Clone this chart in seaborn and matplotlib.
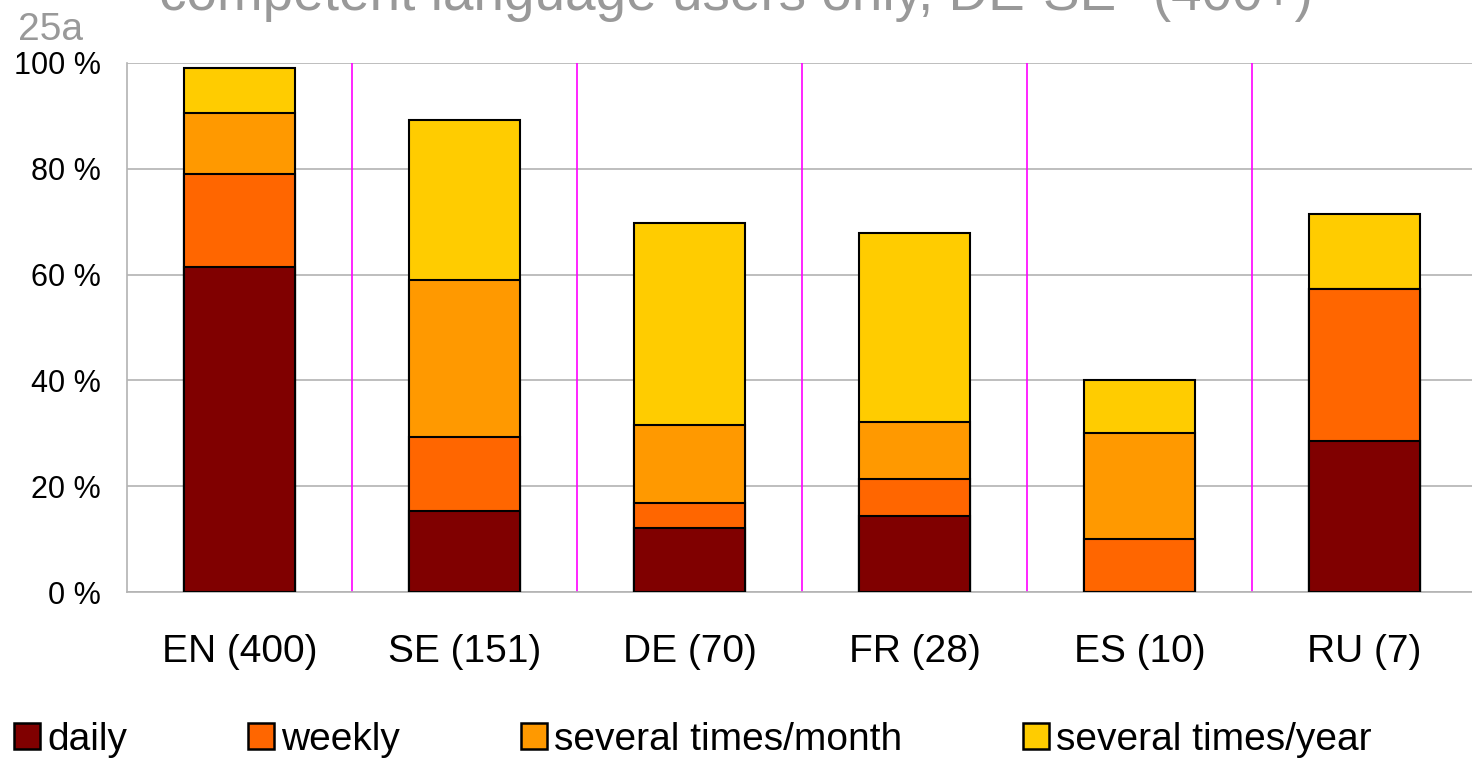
import matplotlib
matplotlib.use("Agg")
import matplotlib.pyplot as plt
from matplotlib.patches import Patch
import seaborn as sns
import pandas as pd

# Data (percent of users)
languages = ["EN (400)", "SE (151)", "DE (70)", "FR (28)", "ES (10)", "RU (7)"]
daily = [61.4, 15.3, 12.1, 14.3, 0.0, 28.6]
weekly = [17.6, 14.0, 4.7, 7.1, 10.0, 28.6]
per_month = [11.5, 29.7, 14.8, 10.7, 20.0, 0.0]
per_year = [8.6, 30.2, 38.2, 35.8, 10.0, 14.3]

series_names = ["daily", "weekly", "several times/month", "several times/year"]
colors = ["#800000", "#FF6600", "#FF9900", "#FFCC00"]

df = pd.DataFrame({
    "Language": languages,
    "daily": daily,
    "weekly": weekly,
    "several times/month": per_month,
    "several times/year": per_year,
})

# cumulative sums so the bars can be layered into stacks
cum = df[series_names].cumsum(axis=1)
cum["Language"] = df["Language"]

sns.set_style("white")
plt.rcParams["font.family"] = ["Liberation Sans", "DejaVu Sans"]
plt.rcParams["text.color"] = "black"

fig = plt.figure(figsize=(14.72, 7.61), dpi=100)
ax = fig.add_axes([127 / 1472, 1 - 592 / 761, 1345 / 1472, (592 - 63) / 761])

# draw the tallest layer first, then cover it with the lower ones
for name, color in reversed(list(zip(series_names, colors))):
    sns.barplot(data=cum, x="Language", y=name, color=color, width=0.49,
                edgecolor="black", linewidth=1.5, saturation=1, ax=ax, zorder=3)

ax.set_xlim(-0.5, -0.5 + 1345 / 225)
ax.set_ylim(0, 100)
ax.set_yticks([0, 20, 40, 60, 80, 100])
ax.set_yticklabels([f"{v} %" for v in [0, 20, 40, 60, 80, 100]])
ax.set_xlabel("")
ax.set_ylabel("")

# grid and category separators
ax.grid(axis="y", color="#b3b3b3", linewidth=1.2, zorder=0)
ax.set_axisbelow(True)
for i in range(len(languages) - 1):
    ax.axvline(i + 0.5, color="#FF00FF", linewidth=1.2, zorder=1)

ax.set_xticks([i + 0.5 for i in range(len(languages) - 1)], minor=True)
ax.tick_params(axis="x", which="major", length=0, pad=30, labelsize=28, labelcolor="black")
ax.tick_params(axis="x", which="minor", length=9, color="#999999", width=1)
ax.tick_params(axis="y", length=7, color="#999999", width=1, pad=12, labelsize=22,
               labelcolor="black")

for side in ["top", "right"]:
    ax.spines[side].set_visible(False)
for side in ["left", "bottom"]:
    ax.spines[side].set_color("#b3b3b3")
    ax.spines[side].set_linewidth(1.2)

# title text clipped at the top edge, as in the original image
fig.text(0.5, 1 - 10 / 761, "competent language users only, DE-SE* (400+)",
         ha="center", va="baseline", fontsize=39.5, color="#999999")
fig.text(18 / 1472, 1 - 40 / 761, "25a", ha="left", va="baseline",
         fontsize=28, color="#999999")

# Legend
handles = [Patch(facecolor=c, edgecolor="black", linewidth=1.8) for c in colors]
fig.legend(handles, series_names, loc="center left", bbox_to_anchor=(14 / 1472, 1 - 740 / 761),
           ncol=4, frameon=False, fontsize=28, handlelength=0.66, handleheight=0.66,
           handletextpad=0.2, columnspacing=3.1, borderaxespad=0, borderpad=0,
           labelcolor="black")

fig.savefig("out.png", dpi=100)
